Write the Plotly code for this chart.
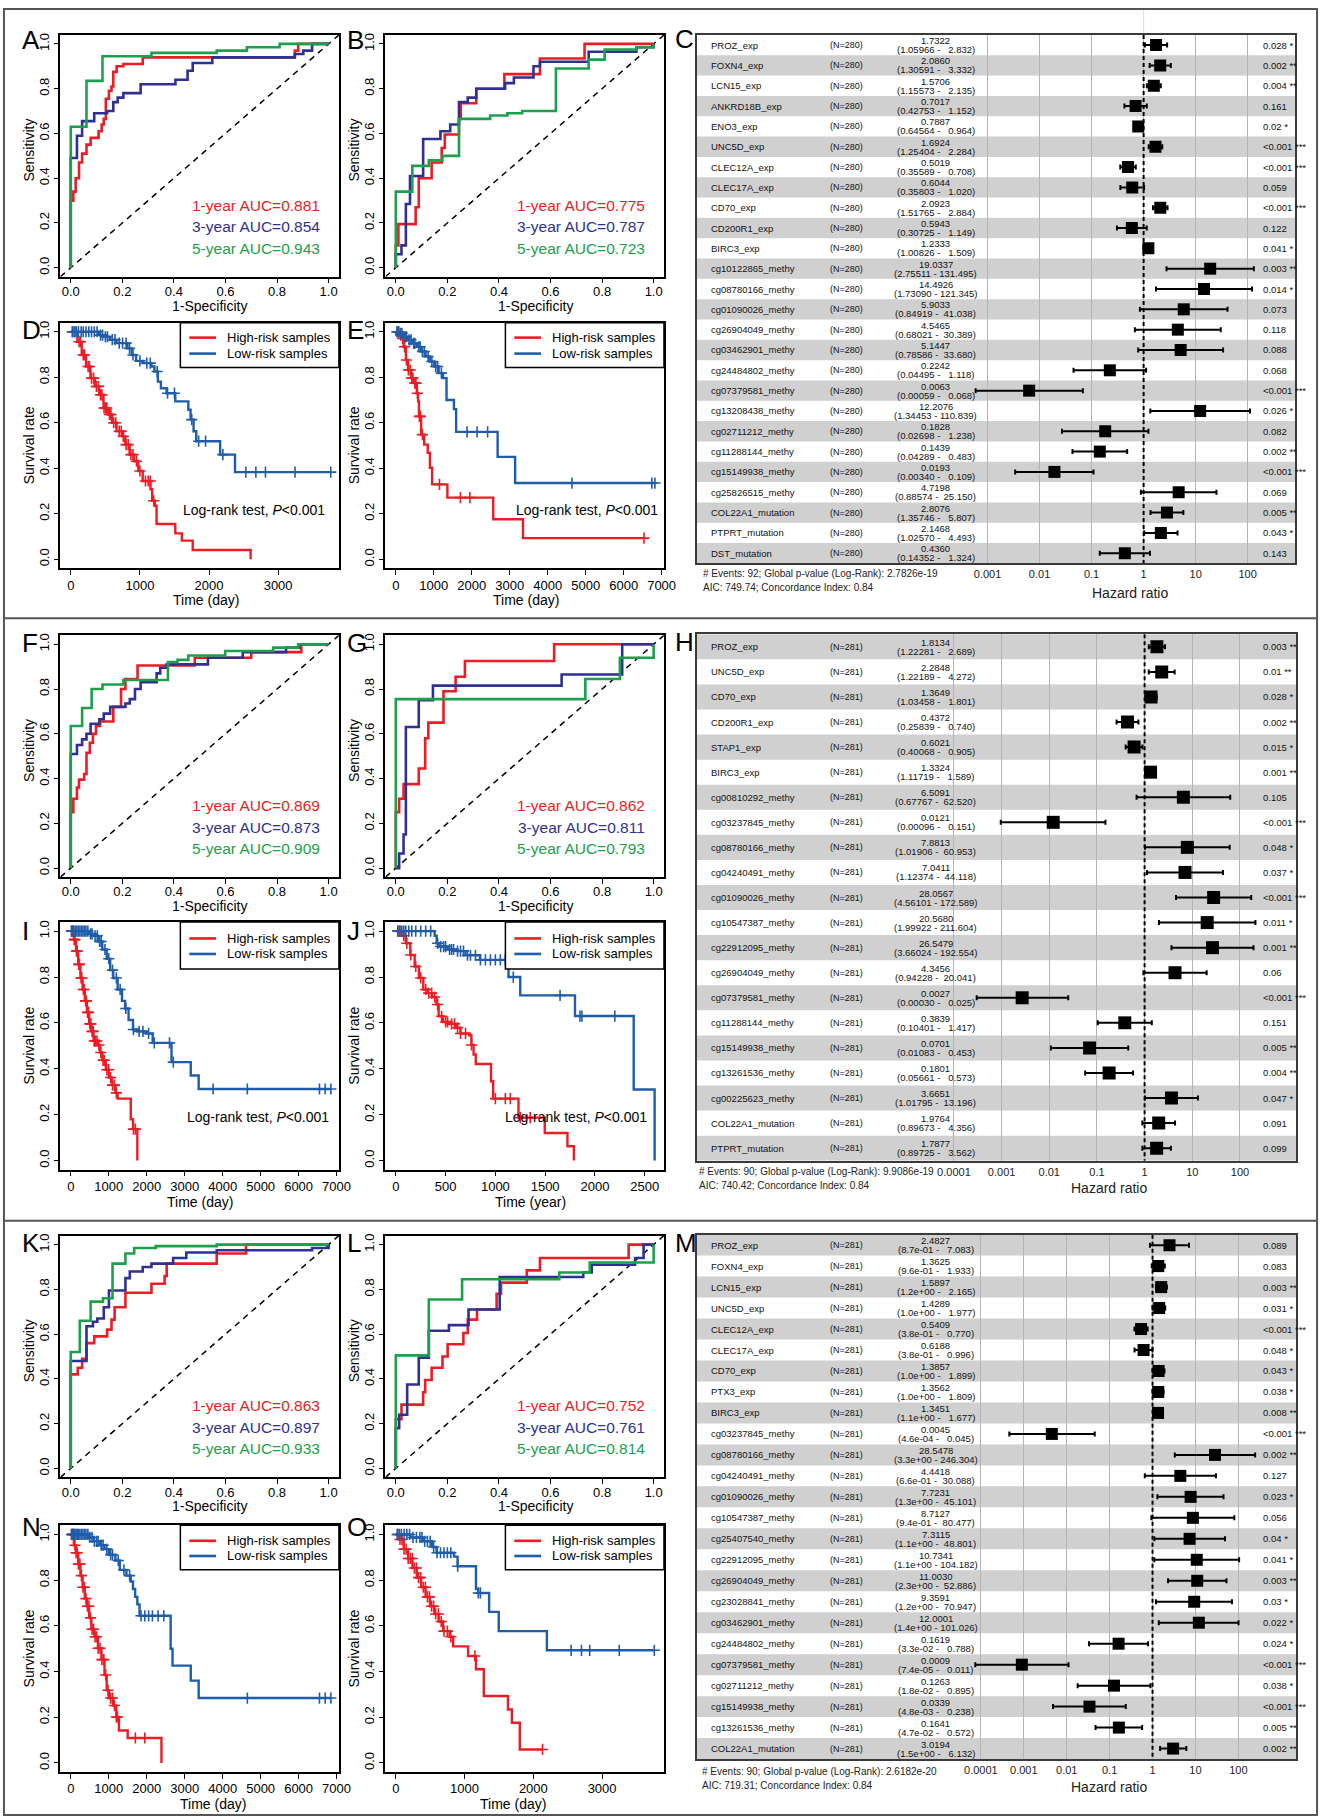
import numpy as np
import plotly.graph_objects as go

W, H = 1333, 1818
FONT = "Liberation Sans, Arial, Helvetica, sans-serif"
ROC_COLORS = ["#ED1C24", "#2E3192", "#1CA04C"]
KM_RED, KM_BLUE = "#ED1C24", "#1F5CA9"

# ======================= ROC data (1-specificity, sensitivity) =======================
A1_fpr = [0, 0, 0.01, 0.019, 0.032, 0.044, 0.061, 0.077, 0.108, 0.12, 0.128, 0.136, 0.148, 0.158, 0.165, 0.178, 0.204, 0.279, 0.869, 0.882, 1.0]
A1_tpr = [0, 0.30, 0.34, 0.40, 0.47, 0.51, 0.55, 0.58, 0.61, 0.64, 0.665, 0.755, 0.79, 0.81, 0.875, 0.90, 0.91, 0.94, 0.97, 1.0, 1.0]
A3_fpr = [0, 0, 0.024, 0.044, 0.091, 0.141, 0.165, 0.182, 0.204, 0.271, 0.406, 0.453, 0.473, 0.549, 0.869, 0.902, 0.936, 1.0]
A3_tpr = [0, 0.49, 0.59, 0.655, 0.69, 0.70, 0.74, 0.76, 0.78, 0.82, 0.84, 0.88, 0.915, 0.94, 0.955, 0.97, 1.0, 1.0]
A5_fpr = [0, 0, 0.061, 0.123, 0.313, 0.566, 0.683, 0.81, 1.0]
A5_tpr = [0, 0.63, 0.835, 0.945, 0.96, 0.97, 0.985, 1.0, 1.0]

B1_fpr = [0, 0, 0.01, 0.077, 0.089, 0.139, 0.178, 0.19, 0.245, 0.252, 0.312, 0.421, 0.559, 0.732, 1.0]
B1_tpr = [0, 0.10, 0.195, 0.27, 0.40, 0.47, 0.535, 0.595, 0.665, 0.735, 0.80, 0.865, 0.935, 1.0, 1.0]
B3_fpr = [0, 0, 0.022, 0.039, 0.055, 0.106, 0.173, 0.211, 0.245, 0.279, 0.312, 0.424, 0.458, 0.534, 0.559, 0.748, 0.933, 1.0]
B3_tpr = [0, 0.06, 0.10, 0.285, 0.41, 0.575, 0.61, 0.64, 0.74, 0.76, 0.80, 0.825, 0.85, 0.90, 0.92, 0.965, 0.985, 1.0]
B5_fpr = [0, 0, 0.064, 0.128, 0.181, 0.245, 0.366, 0.433, 0.49, 0.621, 0.748, 0.81, 0.933, 1.0]
B5_tpr = [0, 0.34, 0.455, 0.48, 0.50, 0.665, 0.68, 0.69, 0.70, 0.89, 0.93, 0.975, 0.985, 1.0]

F1_fpr = [0, 0, 0.01, 0.024, 0.032, 0.052, 0.061, 0.074, 0.086, 0.098, 0.114, 0.165, 0.195, 0.212, 0.259, 0.481, 0.70, 0.894, 1.0]
F1_tpr = [0, 0.25, 0.31, 0.36, 0.395, 0.42, 0.515, 0.56, 0.60, 0.635, 0.655, 0.72, 0.80, 0.845, 0.905, 0.94, 0.965, 1.0, 1.0]
F3_fpr = [0, 0, 0.024, 0.044, 0.061, 0.077, 0.111, 0.128, 0.153, 0.212, 0.229, 0.249, 0.271, 0.333, 0.347, 0.372, 0.532, 0.667, 0.835, 0.886, 1.0]
F3_tpr = [0, 0.51, 0.55, 0.575, 0.60, 0.645, 0.665, 0.69, 0.72, 0.735, 0.755, 0.80, 0.83, 0.87, 0.895, 0.91, 0.94, 0.965, 0.985, 1.0, 1.0]
F5_fpr = [0, 0, 0.044, 0.081, 0.123, 0.204, 0.377, 0.414, 0.456, 0.599, 0.785, 0.882, 1.0]
F5_tpr = [0, 0.635, 0.715, 0.80, 0.82, 0.84, 0.92, 0.93, 0.95, 0.97, 0.985, 1.0, 1.0]

G1_fpr = [0, 0, 0.013, 0.03, 0.089, 0.114, 0.126, 0.185, 0.232, 0.268, 0.614, 1.0]
G1_tpr = [0, 0.25, 0.31, 0.375, 0.445, 0.58, 0.65, 0.79, 0.855, 0.925, 1.0, 1.0]
G3_fpr = [0, 0.013, 0.03, 0.039, 0.089, 0.144, 0.643, 0.878, 1.0]
G3_tpr = [0, 0.065, 0.15, 0.63, 0.75, 0.815, 0.865, 1.0, 1.0]
G5_fpr = [0, 0, 0.735, 0.869, 1.0]
G5_tpr = [0, 0.755, 0.845, 0.94, 1.0]

K1_fpr = [0, 0, 0.027, 0.044, 0.061, 0.091, 0.141, 0.158, 0.17, 0.212, 0.313, 0.364, 0.372, 0.566, 0.68, 1.0]
K1_tpr = [0, 0.42, 0.45, 0.49, 0.56, 0.59, 0.62, 0.665, 0.72, 0.785, 0.825, 0.86, 0.915, 0.96, 1.0, 1.0]
K3_fpr = [0, 0, 0.061, 0.086, 0.103, 0.128, 0.148, 0.212, 0.229, 0.279, 0.313, 0.397, 0.448, 0.566, 0.936, 1.0]
K3_tpr = [0, 0.48, 0.635, 0.655, 0.67, 0.72, 0.795, 0.85, 0.88, 0.90, 0.915, 0.94, 0.965, 0.975, 0.985, 1.0]
K5_fpr = [0, 0, 0.035, 0.077, 0.125, 0.162, 0.212, 0.246, 0.33, 0.566, 1.0]
K5_tpr = [0, 0.52, 0.66, 0.745, 0.76, 0.915, 0.96, 0.985, 0.993, 1.0, 1.0]

L1_fpr = [0, 0, 0.022, 0.106, 0.114, 0.139, 0.181, 0.201, 0.262, 0.279, 0.315, 0.391, 0.408, 0.508, 0.559, 0.903, 1.0]
L1_tpr = [0, 0.22, 0.285, 0.34, 0.395, 0.45, 0.50, 0.555, 0.605, 0.665, 0.71, 0.78, 0.83, 0.885, 0.94, 1.0, 1.0]
L3_fpr = [0, 0, 0.013, 0.044, 0.089, 0.128, 0.206, 0.282, 0.403, 0.727, 0.76, 0.928, 0.961, 1.0]
L3_tpr = [0, 0.18, 0.24, 0.375, 0.495, 0.615, 0.64, 0.71, 0.855, 0.875, 0.91, 0.94, 1.0, 1.0]
L5_fpr = [0, 0, 0.128, 0.257, 0.634, 0.752, 1.0]
L5_tpr = [0, 0.505, 0.755, 0.845, 0.875, 0.92, 1.0]

AUC_A = [0.881, 0.854, 0.943]
AUC_B = [0.775, 0.787, 0.723]
AUC_F = [0.869, 0.873, 0.909]
AUC_G = [0.862, 0.811, 0.793]
AUC_K = [0.863, 0.897, 0.933]
AUC_L = [0.752, 0.761, 0.814]
ROC_YEARS = [1, 3, 5]
ROC_TICKS = [0, 0.2, 0.4, 0.6, 0.8, 1.0]
ROC_TICKLABELS = ["0.0", "0.2", "0.4", "0.6", "0.8", "1.0"]

# ======================= Kaplan-Meier data =======================
D_high_t = [0, 95, 158, 221, 284, 347, 410, 473, 536, 599, 662, 756, 788, 851, 914, 977, 1040, 1153, 1178, 1216, 1241, 1512, 1607, 1764, 2602]
D_high_s = [1.0, 0.956, 0.898, 0.847, 0.796, 0.76, 0.723, 0.665, 0.636, 0.60, 0.563, 0.54, 0.504, 0.46, 0.431, 0.388, 0.344, 0.308, 0.257, 0.235, 0.155, 0.114, 0.082, 0.041, 0.0]
D_high_end = 2602
D_high_cens = [30, 60, 120, 140, 180, 200, 250, 270, 300, 330, 370, 400, 430, 450, 480, 500, 520, 560, 580, 620, 650, 700, 730, 760, 800, 830, 870, 900, 950, 1000, 1080, 1120, 1150, 1200]
D_low_t = [0, 410, 473, 567, 662, 819, 882, 945, 1040, 1166, 1210, 1260, 1304, 1386, 1512, 1701, 1733, 1777, 1815, 2161, 2376]
D_low_s = [1.0, 0.985, 0.978, 0.965, 0.95, 0.927, 0.898, 0.872, 0.862, 0.847, 0.825, 0.781, 0.752, 0.73, 0.694, 0.657, 0.614, 0.563, 0.519, 0.46, 0.383]
D_low_end = 3762
D_low_cens = [20, 50, 80, 110, 150, 180, 220, 260, 300, 340, 380, 430, 460, 500, 530, 600, 640, 700, 750, 800, 850, 900, 1000, 1100, 1150, 1250, 1400, 1500, 1750, 1850, 1950, 2200, 2533, 2678, 2817, 3245, 3762]

E_high_t = [0, 92, 150, 207, 265, 322, 403, 472, 552, 587, 610, 667, 748, 840, 898, 955, 1358, 2566, 3349]
E_high_s = [1.0, 0.985, 0.971, 0.934, 0.876, 0.832, 0.796, 0.774, 0.73, 0.694, 0.628, 0.548, 0.504, 0.468, 0.402, 0.329, 0.271, 0.176, 0.093]
E_high_end = 6536
E_high_cens = [40, 80, 130, 180, 230, 280, 330, 380, 420, 450, 500, 530, 570, 620, 650, 700, 1150, 1700, 1950, 6536]
E_low_t = [0, 92, 207, 322, 437, 552, 667, 783, 898, 1013, 1128, 1243, 1335, 1530, 1588, 2681, 3142]
E_low_s = [1.0, 0.993, 0.978, 0.964, 0.949, 0.934, 0.913, 0.891, 0.869, 0.847, 0.818, 0.796, 0.70, 0.66, 0.56, 0.45, 0.335]
E_low_end = 6824
E_low_cens = [30, 60, 120, 160, 250, 280, 350, 400, 470, 500, 600, 640, 700, 750, 850, 950, 1050, 1100, 1200, 1876, 2140, 2417, 4638, 6743, 6824]

I_high_t = [0, 81, 138, 196, 254, 311, 369, 427, 484, 542, 600, 715, 773, 830, 923, 1003, 1084, 1176, 1234, 1580, 1640, 1753]
I_high_s = [1.0, 0.963, 0.913, 0.855, 0.796, 0.746, 0.696, 0.646, 0.596, 0.563, 0.521, 0.504, 0.471, 0.437, 0.396, 0.362, 0.329, 0.295, 0.27, 0.18, 0.137, 0.0]
I_high_end = 1753
I_high_cens = [20, 50, 90, 110, 150, 170, 210, 230, 270, 290, 330, 350, 390, 410, 440, 470, 500, 530, 560, 590, 620, 650, 690, 740, 790, 850, 880, 950, 1000, 1050, 1100, 1150, 1200, 1650, 1700]
I_low_t = [0, 484, 600, 715, 830, 946, 1038, 1119, 1234, 1349, 1430, 1522, 1638, 1753, 1984, 2157, 2653, 3160, 3368]
I_low_s = [1.0, 0.988, 0.98, 0.955, 0.92, 0.88, 0.83, 0.796, 0.746, 0.696, 0.663, 0.613, 0.571, 0.563, 0.554, 0.513, 0.429, 0.371, 0.312]
I_low_end = 6850
I_low_cens = [20, 50, 80, 120, 160, 200, 240, 280, 320, 360, 400, 450, 520, 560, 640, 700, 760, 800, 900, 1000, 1100, 1200, 1300, 1450, 1650, 1800, 1900, 2050, 2200, 2600, 2700, 3750, 4650, 6550, 6700, 6850]

J_high_t = [0, 57, 101, 145, 189, 232, 276, 320, 364, 408, 430, 474, 539, 605, 649, 737, 759, 781, 803, 956, 978, 1232, 1496, 1724, 1789]
J_high_s = [1.0, 0.98, 0.947, 0.896, 0.846, 0.796, 0.746, 0.73, 0.713, 0.68, 0.629, 0.604, 0.596, 0.579, 0.554, 0.546, 0.504, 0.462, 0.421, 0.346, 0.27, 0.187, 0.12, 0.062, 0.0]
J_high_end = 1789
J_high_cens = [20, 40, 80, 110, 150, 200, 250, 300, 330, 360, 390, 420, 460, 500, 520, 560, 590, 620, 650, 700, 760, 1000, 1100, 1150, 1250, 1350]
J_low_t = [0, 390, 410, 430, 520, 610, 700, 846, 1132, 1250, 1800, 2390, 2600]
J_low_s = [1.0, 0.98, 0.947, 0.933, 0.92, 0.913, 0.895, 0.875, 0.80, 0.72, 0.63, 0.31, 0.0]
J_low_end = 2600
J_low_cens = [20, 40, 60, 80, 100, 130, 160, 200, 250, 300, 350, 420, 450, 480, 500, 540, 560, 580, 620, 650, 680, 720, 750, 800, 850, 900, 950, 1000, 1050, 1100, 1180, 1650, 1850, 1870, 2200]

N_high_t = [0, 81, 138, 196, 254, 311, 369, 427, 484, 542, 623, 715, 807, 888, 946, 1003, 1119, 1200, 1269, 1499, 2388]
N_high_s = [1.0, 0.953, 0.92, 0.87, 0.82, 0.769, 0.719, 0.686, 0.635, 0.585, 0.552, 0.502, 0.452, 0.385, 0.318, 0.284, 0.251, 0.201, 0.142, 0.109, 0.0]
N_high_end = 2388
N_high_cens = [20, 50, 80, 110, 140, 170, 200, 240, 280, 320, 360, 400, 440, 480, 520, 560, 600, 640, 680, 720, 770, 820, 870, 920, 980, 1050, 1100, 1150, 1200, 1230, 1700, 1950]
N_low_t = [0, 484, 600, 773, 888, 1003, 1176, 1292, 1465, 1580, 1638, 1696, 1753, 1811, 2630, 2680, 3160, 3368]
N_low_s = [1.0, 0.987, 0.97, 0.953, 0.936, 0.911, 0.886, 0.845, 0.82, 0.794, 0.761, 0.727, 0.694, 0.644, 0.50, 0.426, 0.36, 0.284]
N_low_end = 6850
N_low_cens = [20, 50, 80, 110, 140, 170, 200, 240, 280, 320, 360, 400, 450, 500, 560, 620, 680, 720, 800, 850, 950, 1050, 1100, 1250, 1400, 1550, 1850, 1950, 2050, 2150, 2300, 2450, 4650, 6550, 6700, 6850]

O_high_t = [0, 51, 115, 178, 242, 306, 369, 433, 497, 561, 624, 688, 783, 834, 1051, 1166, 1280, 1631, 1688, 1803]
O_high_s = [1.0, 0.978, 0.936, 0.895, 0.853, 0.811, 0.769, 0.727, 0.686, 0.652, 0.619, 0.577, 0.552, 0.51, 0.468, 0.41, 0.293, 0.234, 0.176, 0.059]
O_high_end = 2134
O_high_cens = [30, 60, 90, 120, 150, 180, 210, 240, 270, 300, 330, 360, 400, 430, 460, 490, 520, 550, 580, 620, 660, 700, 750, 800, 1150, 2134]
O_low_t = [0, 210, 401, 529, 592, 847, 898, 1166, 1197, 1357, 1497, 2197]
O_low_s = [1.0, 0.987, 0.97, 0.945, 0.92, 0.903, 0.861, 0.761, 0.744, 0.661, 0.577, 0.493]
O_low_end = 3760
O_low_cens = [20, 50, 80, 120, 160, 200, 250, 300, 350, 380, 420, 460, 500, 550, 600, 650, 700, 750, 800, 900, 1200, 1230, 2550, 2700, 2820, 3250, 3760]

SURV_TICKS = [0, 0.2, 0.4, 0.6, 0.8, 1.0]
SURV_LABELS = ["0.0", "0.2", "0.4", "0.6", "0.8", "1.0"]
KM_LEGEND = ["High-risk samples", "Low-risk samples"]

# ======================= Forest data =======================
C_names = ["PROZ_exp", "FOXN4_exp", "LCN15_exp", "ANKRD18B_exp", "ENO3_exp", "UNC5D_exp", "CLEC12A_exp", "CLEC17A_exp", "CD70_exp", "CD200R1_exp", "BIRC3_exp", "cg10122865_methy", "cg08780166_methy", "cg01090026_methy", "cg26904049_methy", "cg03462901_methy", "cg24484802_methy", "cg07379581_methy", "cg13208438_methy", "cg02711212_methy", "cg11288144_methy", "cg15149938_methy", "cg25826515_methy", "COL22A1_mutation", "PTPRT_mutation", "DST_mutation"]
C_hr = [1.7322, 2.0860, 1.5706, 0.7017, 0.7887, 1.6924, 0.5019, 0.6044, 2.0923, 0.5943, 1.2333, 19.0337, 14.4926, 5.9033, 4.5465, 5.1447, 0.2242, 0.0063, 12.2076, 0.1828, 0.1439, 0.0193, 4.7198, 2.8076, 2.1468, 0.4360]
C_lo = [1.05966, 1.30591, 1.15573, 0.42753, 0.64564, 1.25404, 0.35589, 0.35803, 1.51765, 0.30725, 1.00826, 2.75511, 1.73090, 0.84919, 0.68021, 0.78586, 0.04495, 0.00059, 1.34453, 0.02698, 0.04289, 0.00340, 0.88574, 1.35746, 1.02570, 0.14352]
C_hi = [2.832, 3.332, 2.135, 1.152, 0.964, 2.284, 0.708, 1.020, 2.884, 1.149, 1.509, 131.495, 121.345, 41.038, 30.389, 33.680, 1.118, 0.068, 110.839, 1.238, 0.483, 0.109, 25.150, 5.807, 4.493, 1.324]
C_p = ["0.028", "0.002", "0.004", "0.161", "0.02", "<0.001", "<0.001", "0.059", "<0.001", "0.122", "0.041", "0.003", "0.014", "0.073", "0.118", "0.088", "0.068", "<0.001", "0.026", "0.082", "0.002", "<0.001", "0.069", "0.005", "0.043", "0.143"]
C_star = ["*", "**", "**", "", "*", "***", "***", "", "***", "", "*", "**", "*", "", "", "", "", "***", "*", "", "**", "***", "", "**", "*", ""]
C_footer = ["# Events: 92; Global p-value (Log-Rank): 2.7826e-19", "AIC: 749.74; Concordance Index: 0.84"]

H_names = ["PROZ_exp", "UNC5D_exp", "CD70_exp", "CD200R1_exp", "STAP1_exp", "BIRC3_exp", "cg00810292_methy", "cg03237845_methy", "cg08780166_methy", "cg04240491_methy", "cg01090026_methy", "cg10547387_methy", "cg22912095_methy", "cg26904049_methy", "cg07379581_methy", "cg11288144_methy", "cg15149938_methy", "cg13261536_methy", "cg00225623_methy", "COL22A1_mutation", "PTPRT_mutation"]
H_hr = [1.8134, 2.2848, 1.3649, 0.4372, 0.6021, 1.3324, 6.5091, 0.0121, 7.8813, 7.0411, 28.0567, 20.5680, 26.5479, 4.3456, 0.0027, 0.3839, 0.0701, 0.1801, 3.6651, 1.9764, 1.7877]
H_lo = [1.22281, 1.22189, 1.03458, 0.25839, 0.40068, 1.11719, 0.67767, 0.00096, 1.01906, 1.12374, 4.56101, 1.99922, 3.66024, 0.94228, 0.00030, 0.10401, 0.01083, 0.05661, 1.01795, 0.89673, 0.89725]
H_hi = [2.689, 4.272, 1.801, 0.740, 0.905, 1.589, 62.520, 0.151, 60.953, 44.118, 172.589, 211.604, 192.554, 20.041, 0.025, 1.417, 0.453, 0.573, 13.196, 4.356, 3.562]
H_p = ["0.003", "0.01", "0.028", "0.002", "0.015", "0.001", "0.105", "<0.001", "0.048", "0.037", "<0.001", "0.011", "0.001", "0.06", "<0.001", "0.151", "0.005", "0.004", "0.047", "0.091", "0.099"]
H_star = ["**", "**", "*", "**", "*", "**", "", "***", "*", "*", "***", "*", "**", "", "***", "", "**", "**", "*", "", ""]
H_footer = ["# Events: 90; Global p-value (Log-Rank): 9.9086e-19", "AIC: 740.42; Concordance Index: 0.84"]

M_names = ["PROZ_exp", "FOXN4_exp", "LCN15_exp", "UNC5D_exp", "CLEC12A_exp", "CLEC17A_exp", "CD70_exp", "PTX3_exp", "BIRC3_exp", "cg03237845_methy", "cg08780166_methy", "cg04240491_methy", "cg01090026_methy", "cg10547387_methy", "cg25407540_methy", "cg22912095_methy", "cg26904049_methy", "cg23028841_methy", "cg03462901_methy", "cg24484802_methy", "cg07379581_methy", "cg02711212_methy", "cg15149938_methy", "cg13261536_methy", "COL22A1_mutation"]
M_hr = [2.4827, 1.3625, 1.5897, 1.4289, 0.5409, 0.6188, 1.3857, 1.3562, 1.3451, 0.0045, 28.5478, 4.4418, 7.7231, 8.7127, 7.3115, 10.7341, 11.0030, 9.3591, 12.0001, 0.1619, 0.0009, 0.1263, 0.0339, 0.1641, 3.0194]
M_lo = [8.7e-01, 9.6e-01, 1.2e+00, 1.0e+00, 3.8e-01, 3.8e-01, 1.0e+00, 1.0e+00, 1.1e+00, 4.6e-04, 3.3e+00, 6.6e-01, 1.3e+00, 9.4e-01, 1.1e+00, 1.1e+00, 2.3e+00, 1.2e+00, 1.4e+00, 3.3e-02, 7.4e-05, 1.8e-02, 4.8e-03, 4.7e-02, 1.5e+00]
M_hi = [7.083, 1.933, 2.165, 1.977, 0.770, 0.996, 1.899, 1.809, 1.677, 0.045, 246.304, 30.088, 45.101, 80.477, 48.801, 104.182, 52.886, 70.947, 101.026, 0.788, 0.011, 0.895, 0.238, 0.572, 6.132]
M_p = ["0.089", "0.083", "0.003", "0.031", "<0.001", "0.048", "0.043", "0.038", "0.008", "<0.001", "0.002", "0.127", "0.023", "0.056", "0.04", "0.041", "0.003", "0.03", "0.022", "0.024", "<0.001", "0.038", "<0.001", "0.005", "0.002"]
M_star = ["", "", "**", "*", "***", "*", "*", "*", "**", "***", "**", "", "*", "", "*", "*", "**", "*", "*", "*", "***", "*", "***", "**", "**"]
M_footer = ["# Events: 90; Global p-value (Log-Rank): 2.6182e-20", "AIC: 719.31; Concordance Index: 0.84"]

FOREST_TICKS_C = [0.001, 0.01, 0.1, 1, 10, 100]
FOREST_TICKS_HM = [0.0001, 0.001, 0.01, 0.1, 1, 10, 100]

# ======================= helpers =======================
fig = go.Figure()
LAYOUT = {}
ANN = []
SHP = []
_n = [0]


def px(x):
    return x / W


def py(y):
    return 1 - y / H


def new_axes(box, xkw, ykw):
    _n[0] += 1
    k = _n[0]
    s = "" if k == 1 else str(k)
    x0, y0, x1, y1 = box
    LAYOUT["xaxis" + s] = dict(domain=[x0 / W, x1 / W], anchor="y" + s, **xkw)
    LAYOUT["yaxis" + s] = dict(domain=[1 - y1 / H, 1 - y0 / H], anchor="x" + s, **ykw)
    return "x" + s, "y" + s


def text(x, y, s, size, color="black", xanchor="center", yanchor="middle", angle=0):
    ANN.append(dict(x=px(x), y=py(y), xref="paper", yref="paper", text=s, showarrow=False,
                    xanchor=xanchor, yanchor=yanchor, textangle=angle,
                    font=dict(family=FONT, size=size, color=color)))


def r_axis(rng, vals, labels, angle=0, standoff=0):
    d = dict(range=rng, tickvals=vals, ticktext=labels, ticks="outside", ticklen=5, tickwidth=1,
             tickcolor="black", showline=True, mirror=True, linecolor="black", linewidth=1.5,
             showgrid=False, zeroline=False, tickangle=angle, fixedrange=True,
             tickfont=dict(family=FONT, size=13, color="black"))
    if standoff:
        d["ticklabelstandoff"] = standoff
    return d


def roc_panel(letter, box, curves, aucs, xt_dx, letter_y):
    xr, yr = new_axes(box, r_axis([-0.04, 1.04], ROC_TICKS, ROC_TICKLABELS, standoff=-3),
                      r_axis([-0.04, 1.04], ROC_TICKS, ROC_TICKLABELS, angle=-90))
    fig.add_trace(go.Scatter(x=[-0.04, 1.04], y=[-0.04, 1.04], mode="lines",
                             line=dict(color="black", width=1.5, dash="6px,5px"),
                             xaxis=xr, yaxis=yr, hoverinfo="skip"))
    for (fx, fy), col in zip(curves, ROC_COLORS):
        fig.add_trace(go.Scatter(x=fx, y=fy, mode="lines", line=dict(color=col, width=2.6, shape="hv"),
                                 xaxis=xr, yaxis=yr))
    x0, y0, x1, y1 = box
    for i, (yy, auc) in enumerate(zip(ROC_YEARS, aucs)):
        text(x1 - 17, y0 + [170.5, 192, 213.5][i], f"{yy}-year AUC={auc:.3f}", 15.5, ROC_COLORS[i],
             xanchor="right")
    text((x0 + x1) / 2 + xt_dx, y1 + 29, "1-Specificity", 14)
    text(x0 - 32, (y0 + y1) / 2 - 6, "Sensitivity", 14, angle=-90)
    text(x0 - 41, letter_y, letter, 26, xanchor="left")


def km_panel(letter, box, rng, ticks, curves, xtitle, xt_dx, logrank, legend_geom, letter_y):
    xr, yr = new_axes(box, r_axis(rng, ticks, [str(t) for t in ticks], standoff=-1),
                      r_axis([-0.04, 1.04], SURV_TICKS, SURV_LABELS, angle=-90))
    for (t, s, end, cens), col in zip(curves, [KM_RED, KM_BLUE]):
        xs = list(t) + ([end] if end > t[-1] else [])
        ys = list(s) + ([s[-1]] if end > t[-1] else [])
        fig.add_trace(go.Scatter(x=xs, y=ys, mode="lines", line=dict(color=col, width=2.4, shape="hv"),
                                 xaxis=xr, yaxis=yr))
        idx = np.searchsorted(np.array(t), np.array(cens), side="right") - 1
        cy = np.array(s)[idx]
        fig.add_trace(go.Scatter(x=cens, y=cy, mode="markers",
                                 marker=dict(symbol="cross-thin", size=8, line=dict(width=1.6, color=col)),
                                 xaxis=xr, yaxis=yr))
    x0, y0, x1, y1 = box
    lh, e1, e2 = legend_geom
    SHP.append(dict(type="rect", xref="paper", yref="paper", x0=px(x0 + 121), x1=px(x1), y0=py(y0 + lh),
                    y1=py(y0), line=dict(color="black", width=1.5), fillcolor="white", layer="above"))
    for ey, col, lab in zip([e1, e2], [KM_RED, KM_BLUE], KM_LEGEND):
        SHP.append(dict(type="line", xref="paper", yref="paper", x0=px(x0 + 130), x1=px(x0 + 157),
                        y0=py(y0 + ey), y1=py(y0 + ey), line=dict(color=col, width=2.6), layer="above"))
        text(x0 + 166.5, y0 + ey, lab, 13, xanchor="left")
    if logrank is not None:
        lx, ly = logrank
        text(lx, y0 + ly, "Log-rank test, <i>P</i>&lt;0.001", 14, xanchor="right")
    text((x0 + x1) / 2 + xt_dx, y1 + 32, xtitle, 14)
    text(x0 - 32, (y0 + y1) / 2, "Survival rate", 14, angle=-90)
    text(x0 - 41, letter_y, letter, 26, xanchor="left")


def fmt_tick(v):
    return ("%g" % v) if v >= 0.001 else "0.0001"


def forest_panel(letter, box, names, hr, lo, hi, pv, st, nlab, sci, one_x, dec_px, ticks, footer,
                 foot_x, foot_y, hr_title, msize, letter_y):
    x0, y0, x1, y1 = box
    n = len(names)
    lmin = (x0 - one_x) / dec_px
    lmax = (x1 - one_x) / dec_px
    xkw = dict(type="log", range=[lmin, lmax], tickvals=ticks, ticktext=[fmt_tick(t) for t in ticks],
               ticks="", showgrid=True, gridcolor="#B4B4B4", gridwidth=1, showline=True, mirror=True,
               linecolor="#3A3A3A", linewidth=1.5, zeroline=False, fixedrange=True,
               tickfont=dict(family=FONT, size=11, color="#222"))
    ykw = dict(range=[n - 0.5, -0.5], showticklabels=False, ticks="", showgrid=False, zeroline=False,
               showline=True, mirror=True, linecolor="#3A3A3A", linewidth=1.5, fixedrange=True)
    xr, yr = new_axes(box, xkw, ykw)
    rows = list(range(n))
    for i in rows:
        if (n - 1 - i) % 2 == 0:
            SHP.append(dict(type="rect", xref=xr + " domain", yref=yr, x0=0, x1=1, y0=i - 0.5, y1=i + 0.5,
                            fillcolor="#D0D0D0", line=dict(width=0), layer="below"))
    fig.add_trace(go.Scatter(x=[1, 1], y=[-0.5, n - 0.5], mode="lines",
                             line=dict(color="black", width=2, dash="4px,3px"), xaxis=xr, yaxis=yr))
    fig.add_trace(go.Scatter(x=hr, y=rows, mode="markers",
                             marker=dict(symbol="square", size=msize, color="black"),
                             error_x=dict(type="data", symmetric=False,
                                          array=[h2 - h for h, h2 in zip(hr, hi)],
                                          arrayminus=[h - l for h, l in zip(hr, lo)],
                                          color="black", thickness=2, width=2.5),
                             xaxis=xr, yaxis=yr))
    for i in rows:
        def ann(x, s, size=9, xanchor="left", yshift=0):
            ANN.append(dict(x=px(x), y=i, xref="paper", yref=yr, text=s, showarrow=False,
                            xanchor=xanchor, yanchor="middle", yshift=yshift,
                            font=dict(family=FONT, size=size, color="#111")))
        ann(715, names[i], 9.5)
        ann(836, nlab, 9)
        ann(944, f"{hr[i]:.4f}", 9.5, "center", 4.5)
        lo_s = f"{lo[i]:.1e}" if sci else f"{lo[i]:.5f}"
        ann(944, f"({lo_s} - {hi[i]:7.3f})", 9.5, "center", -4.5)
        p_s = pv[i].replace("<", "&lt;") + ((" " + st[i]) if st[i] else "")
        ann(1272, p_s, 9.5)
    text(foot_x, foot_y, footer[0], 10, "#222", xanchor="left")
    text(foot_x, foot_y + 14, footer[1], 10, "#222", xanchor="left")
    text(hr_title[0], hr_title[1], "Hazard ratio", 14, "#222")
    text(679, letter_y, letter, 26, xanchor="left")


# ======================= build panels =======================
# Row 1
roc_panel("A", (61, 33, 342, 275), [(A1_fpr, A1_tpr), (A3_fpr, A3_tpr), (A5_fpr, A5_tpr)], AUC_A, 10, 38)
roc_panel("B", (389, 33, 670, 275), [(B1_fpr, B1_tpr), (B3_fpr, B3_tpr), (B5_fpr, B5_tpr)], AUC_B, 11, 38)
km_panel("D", (61, 321, 342, 567), [-150, 3880], [0, 1000, 2000, 3000],
         [(D_high_t, D_high_s, D_high_end, D_high_cens), (D_low_t, D_low_s, D_low_end, D_low_cens)],
         "Time (day)", 6, (330, 188), (45, 15, 31), 328)
km_panel("E", (389, 321, 670, 567), [-272, 7062], [0, 1000, 2000, 3000, 4000, 5000, 6000, 7000],
         [(E_high_t, E_high_s, E_high_end, E_high_cens), (E_low_t, E_low_s, E_low_end, E_low_cens)],
         "Time (day)", 1, (666, 188), (45, 15, 31), 328)
forest_panel("C", (703, 33, 1307, 562), C_names, C_hr, C_lo, C_hi, C_p, C_star, "(N=280)", False,
             1154, 52.5, FOREST_TICKS_C, C_footer, 707, 572, (1140, 592), 12, 37)

# Row 2
roc_panel("F", (61, 634, 342, 876), [(F1_fpr, F1_tpr), (F3_fpr, F3_tpr), (F5_fpr, F5_tpr)], AUC_F, 10, 642)
roc_panel("G", (389, 634, 670, 876), [(G1_fpr, G1_tpr), (G3_fpr, G3_tpr), (G5_fpr, G5_tpr)], AUC_G, 11, 642)
km_panel("I", (61, 921, 342, 1169), [-272, 7062], [0, 1000, 2000, 3000, 4000, 5000, 6000, 7000],
         [(I_high_t, I_high_s, I_high_end, I_high_cens), (I_low_t, I_low_s, I_low_end, I_low_cens)],
         "Time (day)", 0, (334, 195), (47, 16.5, 32), 930)
km_panel("J", (389, 921, 670, 1169), [-104, 2694], [0, 500, 1000, 1500, 2000, 2500],
         [(J_high_t, J_high_s, J_high_end, J_high_cens), (J_low_t, J_low_s, J_low_end, J_low_cens)],
         "Time (year)", 6, (655, 195), (47, 16.5, 32), 930)
forest_panel("H", (703, 633, 1308, 1160), H_names, H_hr, H_lo, H_hi, H_p, H_star, "(N=281)", False,
             1155, 48.1, FOREST_TICKS_HM, H_footer, 703, 1171, (1119, 1187), 13, 641)

# Row 3
roc_panel("K", (61, 1235, 342, 1477), [(K1_fpr, K1_tpr), (K3_fpr, K3_tpr), (K5_fpr, K5_tpr)], AUC_K, 10, 1242)
roc_panel("L", (389, 1235, 670, 1477), [(L1_fpr, L1_tpr), (L3_fpr, L3_tpr), (L5_fpr, L5_tpr)], AUC_L, 11, 1242)
km_panel("N", (61, 1525, 342, 1772), [-272, 7062], [0, 1000, 2000, 3000, 4000, 5000, 6000, 7000],
         [(N_high_t, N_high_s, N_high_end, N_high_cens), (N_low_t, N_low_s, N_low_end, N_low_cens)],
         "Time (day)", 13, None, (44.5, 15.5, 30.7), 1527)
km_panel("O", (389, 1525, 670, 1772), [-150, 3900], [0, 1000, 2000, 3000],
         [(O_high_t, O_high_s, O_high_end, O_high_cens), (O_low_t, O_low_s, O_low_end, O_low_cens)],
         "Time (day)", -12, None, (44.5, 15.5, 30.7), 1527)
forest_panel("M", (703, 1234, 1308, 1759), M_names, M_hr, M_lo, M_hi, M_p, M_star, "(N=281)", True,
             1163, 43.3, FOREST_TICKS_HM, M_footer, 706, 1771, (1119, 1787), 12, 1242)

# ======================= frame =======================
SHP.append(dict(type="rect", xref="paper", yref="paper", x0=px(4), x1=px(1329), y0=py(1815), y1=py(7),
                line=dict(color="#555", width=2), layer="above"))
for yy in (617, 1220):
    SHP.append(dict(type="line", xref="paper", yref="paper", x0=px(4), x1=px(1329), y0=py(yy), y1=py(yy),
                    line=dict(color="#555", width=2), layer="above"))
SHP.append(dict(type="line", xref="paper", yref="paper", x0=px(1154), x1=px(1154), y0=py(33), y1=py(8),
                line=dict(color="#DDDDDD", width=1), layer="below"))

fig.update_layout(
    width=W, height=H, margin=dict(l=0, r=0, t=0, b=0, pad=0),
    paper_bgcolor="white", plot_bgcolor="white", showlegend=False,
    font=dict(family=FONT, color="black"), hovermode=False,
    annotations=ANN, shapes=SHP, **LAYOUT)

fig.write_html("out.html")
